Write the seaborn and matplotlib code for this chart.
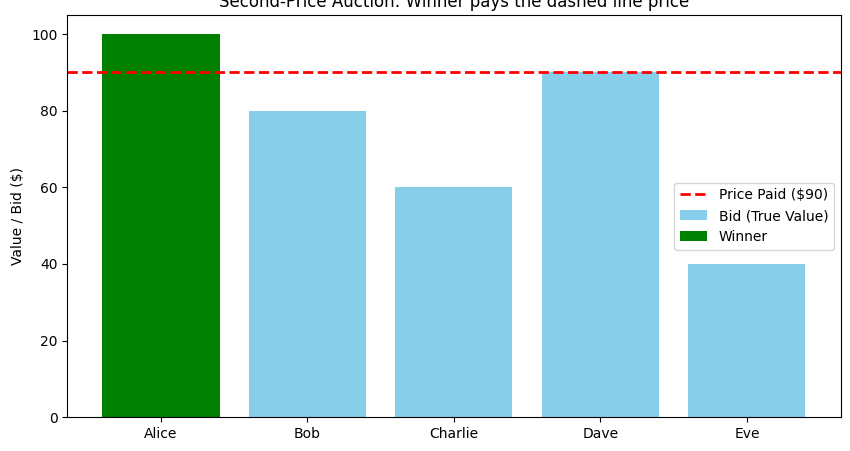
import seaborn as sns
import matplotlib.pyplot as plt

bidders = ['Alice', 'Bob', 'Charlie', 'Dave', 'Eve']
bids = [100, 80, 60, 90, 40]
winner = 'Alice'
price_paid = 90

fig, ax = plt.subplots(figsize=(8.5, 4.51), dpi=100)
fig.subplots_adjust(left=0.079, right=0.989, top=0.967, bottom=0.075)
sns.barplot(x=bidders, y=bids, color='skyblue', saturation=1, width=0.8,
            label='Bid (True Value)', ax=ax)
ax.bar(winner, bids[bidders.index(winner)], width=0.8, color='green', label='Winner')
ax.axhline(price_paid, color='red', linestyle='--', linewidth=2,
           label=f'Price Paid (${price_paid})')

ax.set_ylabel('Value / Bid ($)')
ax.set_title('Second-Price Auction: Winner pays the dashed line price')
ax.legend(loc='center right')

plt.savefig('out.png')
